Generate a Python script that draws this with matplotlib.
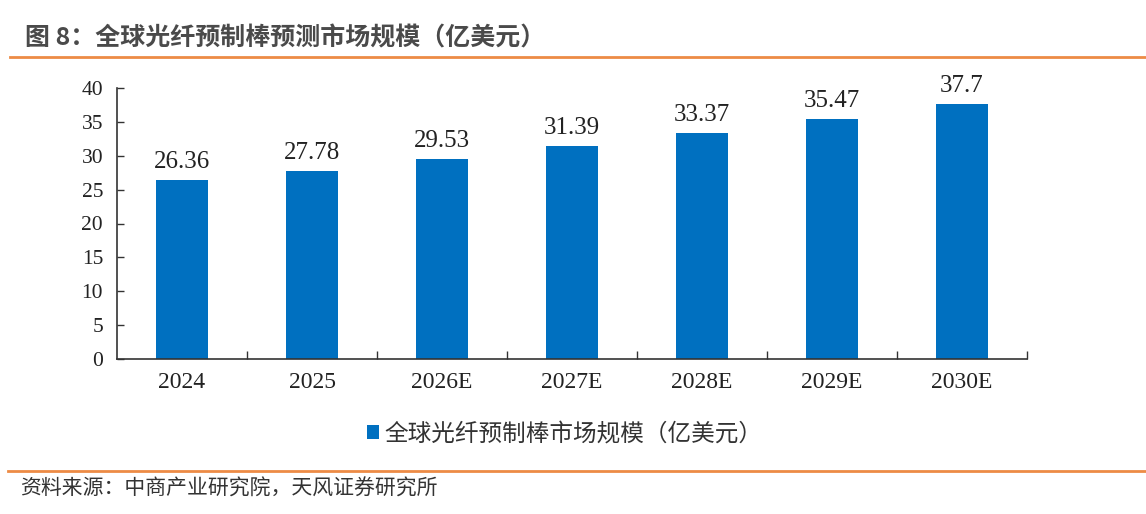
import matplotlib
matplotlib.use("Agg")
import matplotlib.pyplot as plt
from matplotlib.lines import Line2D

categories = ["2024", "2025", "2026E", "2027E", "2028E", "2029E", "2030E"]
values = [26.36, 27.78, 29.53, 31.39, 33.37, 35.47, 37.7]
value_labels = ["26.36", "27.78", "29.53", "31.39", "33.37", "35.47", "37.7"]
y_ticks = [0, 5, 10, 15, 20, 25, 30, 35, 40]
series_name = "全球光纤预制棒市场规模（亿美元）"
title = "图 8：全球光纤预制棒预测市场规模（亿美元）"
source = "资料来源：中商产业研究院，天风证券研究所"

BAR = "#0070C0"
ORANGE = "#ED8B45"
SERIF = ["Liberation Serif", "DejaVu Serif"]
CJK = ["Noto Sans CJK SC", "DejaVu Sans"]

fig = plt.figure(figsize=(11.46, 5.14), dpi=100)
ax = fig.add_axes([117/1146, 1-359/514, (1027-117)/1146, (359-88)/514])

x = list(range(len(categories)))
bars = ax.bar(x, values, width=0.4, color=BAR, label=series_name, zorder=2)
for xi, v, lab in zip(x, values, value_labels):
    ax.annotate(lab, (xi, v), xytext=(0, 5), textcoords="offset points",
                ha="center", va="bottom", fontsize=18, family=SERIF, color="#222222")

ax.set_xlim(-0.5, len(categories) - 0.5)
ax.set_ylim(0, 40)
ax.set_yticks(y_ticks)
ax.set_yticklabels([str(t) for t in y_ticks], family=SERIF, fontsize=15.5, color="#222222")
ax.set_xticks(x)
ax.set_xticklabels(categories, family=SERIF, fontsize=17, color="#222222")
ax.tick_params(axis="x", length=0, pad=9)
ax.tick_params(axis="y", direction="in", length=5, width=1, color="#333333", pad=10)
ax.set_xticks([i + 0.5 for i in range(len(categories))], minor=True)
ax.tick_params(axis="x", which="minor", direction="in", length=6, width=1, color="#333333")
for s in ["top", "right"]:
    ax.spines[s].set_visible(False)
for s in ["left", "bottom"]:
    ax.spines[s].set_color("#333333")
    ax.spines[s].set_linewidth(1.2)

leg = fig.legend(handles=[bars], labels=[series_name], loc="center",
                 bbox_to_anchor=(565/1146, 1-434/514), frameon=False,
                 prop={"family": CJK, "size": 17}, handlelength=0.5, handleheight=0.5,
                 handletextpad=0.25)
for t in leg.get_texts():
    t.set_color("#333333")

fig.text(25/1146, 1-38/514, title, family=CJK, fontsize=18, fontweight="bold",
         color="#4a4a4a", ha="left", va="center")
fig.add_artist(Line2D([10/1146, 1], [1-57/514, 1-57/514], color=ORANGE, lw=2))
fig.add_artist(Line2D([8/1146, 1], [1-471/514, 1-471/514], color=ORANGE, lw=2))
fig.text(20/1146, 1-489/514, source, family=CJK, fontsize=15,
         color="#333333", ha="left", va="center")

fig.savefig("out.png", dpi=100)
